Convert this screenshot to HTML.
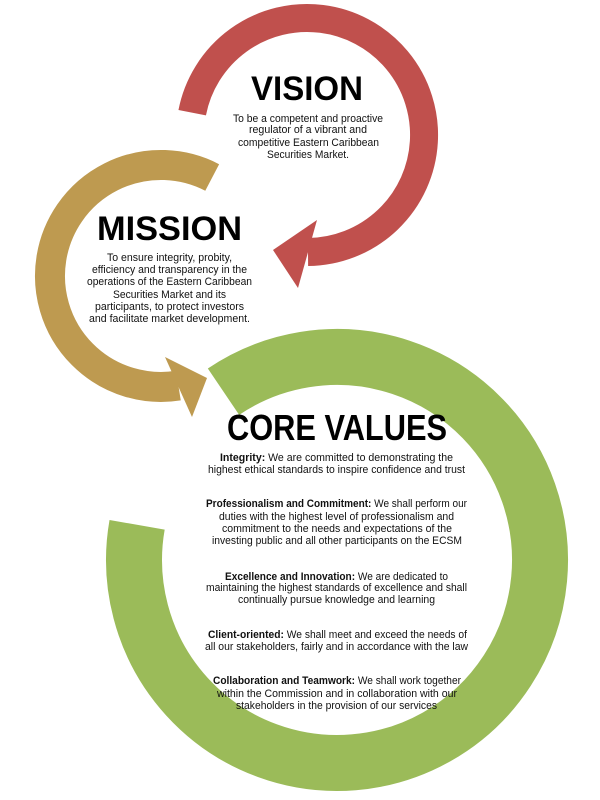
<!DOCTYPE html>
<html><head><meta charset="utf-8"><style>
html,body{margin:0;padding:0;background:#fff;width:600px;height:800px;overflow:hidden}
svg{display:block}
text{font-family:"Liberation Sans",sans-serif;fill:#111}
.t{font-size:11px}
.h{font-weight:bold;fill:#000}
</style></head><body>
<svg width="600" height="800" viewBox="0 0 600 800" xmlns="http://www.w3.org/2000/svg">
<!-- red -->
<path d="M192.2,112.7 A117,117 0 1 1 308,252" fill="none" stroke="#C0504D" stroke-width="28"/>
<polygon points="273,250 317,220 298,288" fill="#C0504D"/>
<!-- mustard -->
<path d="M212.2,177.5 A111,111 0 1 0 178.4,385.6" fill="none" stroke="#BE9A50" stroke-width="30"/>
<polygon points="207,378 165,357 192,417" fill="#BE9A50"/>
<!-- green -->
<path d="M223.5,391.7 A203,203 0 1 1 137.1,524.8" fill="none" stroke="#9BBB59" stroke-width="56"/>

<text class="h" x="307" y="100" font-size="34" text-anchor="middle" textLength="112" lengthAdjust="spacingAndGlyphs">VISION</text>
<text class="t" x="233" y="122" textLength="150" lengthAdjust="spacingAndGlyphs">To be a competent and proactive</text>
<text class="t" x="249" y="133" textLength="118" lengthAdjust="spacingAndGlyphs">regulator of a vibrant and</text>
<text class="t" x="238" y="146" textLength="141" lengthAdjust="spacingAndGlyphs">competitive Eastern Caribbean</text>
<text class="t" x="267" y="158" textLength="82" lengthAdjust="spacingAndGlyphs">Securities Market.</text>

<text class="h" x="97" y="240" font-size="34" textLength="145" lengthAdjust="spacingAndGlyphs">MISSION</text>
<text class="t" x="107" y="261" textLength="125" lengthAdjust="spacingAndGlyphs">To ensure integrity, probity,</text>
<text class="t" x="92" y="273" textLength="155" lengthAdjust="spacingAndGlyphs">efficiency and transparency in the</text>
<text class="t" x="87" y="285" textLength="165" lengthAdjust="spacingAndGlyphs">operations of the Eastern Caribbean</text>
<text class="t" x="113" y="298" textLength="113" lengthAdjust="spacingAndGlyphs">Securities Market and its</text>
<text class="t" x="95" y="310" textLength="149" lengthAdjust="spacingAndGlyphs">participants, to protect investors</text>
<text class="t" x="89" y="322" textLength="161" lengthAdjust="spacingAndGlyphs">and facilitate market development.</text>

<text class="h" x="227" y="440" font-size="36" textLength="220" lengthAdjust="spacingAndGlyphs">CORE VALUES</text>

<text class="t" x="220" y="461" textLength="233" lengthAdjust="spacingAndGlyphs"><tspan font-weight="bold">Integrity:</tspan>  We are committed to demonstrating the</text>
<text class="t" x="208" y="473" textLength="257" lengthAdjust="spacingAndGlyphs">highest ethical standards to inspire confidence and trust</text>

<text class="t" x="206" y="507" textLength="261" lengthAdjust="spacingAndGlyphs"><tspan font-weight="bold">Professionalism and Commitment:</tspan> We shall perform our</text>
<text class="t" x="219" y="520" textLength="235" lengthAdjust="spacingAndGlyphs">duties with the highest level of professionalism and</text>
<text class="t" x="222" y="532" textLength="230" lengthAdjust="spacingAndGlyphs">commitment to the needs and expectations of the</text>
<text class="t" x="212" y="544" textLength="250" lengthAdjust="spacingAndGlyphs">investing public and all other participants on the ECSM</text>

<text class="t" x="225" y="580" textLength="223" lengthAdjust="spacingAndGlyphs"><tspan font-weight="bold">Excellence and Innovation:</tspan>  We are dedicated to</text>
<text class="t" x="206" y="591" textLength="261" lengthAdjust="spacingAndGlyphs">maintaining the highest standards of excellence and shall</text>
<text class="t" x="238" y="603" textLength="197" lengthAdjust="spacingAndGlyphs">continually pursue knowledge and learning</text>

<text class="t" x="208" y="638" textLength="259" lengthAdjust="spacingAndGlyphs"><tspan font-weight="bold">Client-oriented:</tspan>  We shall meet and exceed the needs of</text>
<text class="t" x="205" y="650" textLength="263" lengthAdjust="spacingAndGlyphs">all our stakeholders, fairly and in accordance with the law</text>

<text class="t" x="213" y="684" textLength="248" lengthAdjust="spacingAndGlyphs"><tspan font-weight="bold">Collaboration and Teamwork:</tspan> We shall work together</text>
<text class="t" x="217" y="697" textLength="240" lengthAdjust="spacingAndGlyphs">within the Commission and in collaboration with our</text>
<text class="t" x="236" y="709" textLength="201" lengthAdjust="spacingAndGlyphs">stakeholders in the provision of our services</text>
</svg>
</body></html>
